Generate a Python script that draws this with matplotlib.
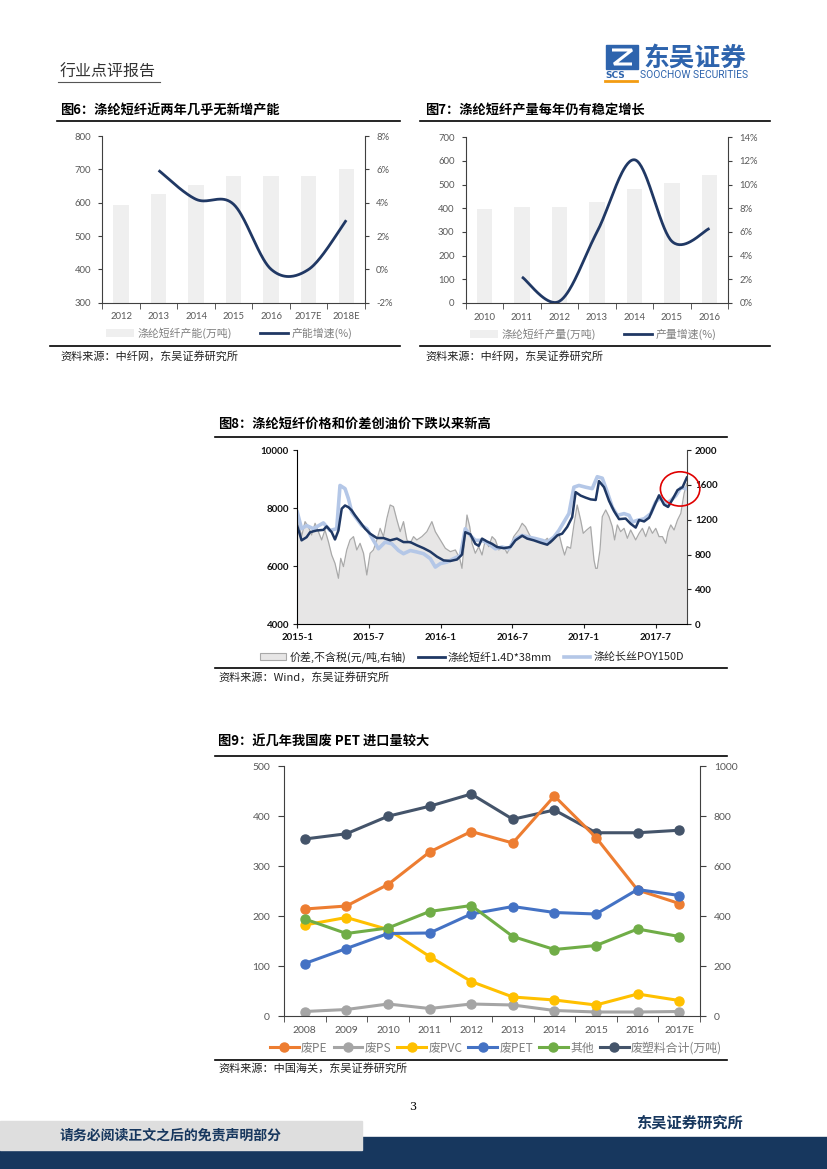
import numpy as np
import matplotlib
matplotlib.use("Agg")
import matplotlib.pyplot as plt
from matplotlib.patches import Rectangle, Ellipse, Patch, Polygon
from matplotlib.lines import Line2D

W, H = 827, 1169
LAT = ["Lato", "Noto Sans CJK SC", "DejaVu Sans"]
CJK = ["Noto Sans CJK SC", "DejaVu Sans"]
NAVY = "#203864"
GRAY_TXT = "#595959"

# ---- Fig 6: capacity (bars) and growth (line)
cap_years = ["2012", "2013", "2014", "2015", "2016", "2017E", "2018E"]
cap_vals = [592, 626, 654, 681, 681, 681, 701]
cap_growth_years = ["2013", "2014", "2015", "2016", "2017E", "2018E"]
cap_growth = [5.94, 4.2, 3.9, 0.0, 0.0, 2.95]

# ---- Fig 7: output (bars) and growth (line)
out_years = ["2010", "2011", "2012", "2013", "2014", "2015", "2016"]
out_vals = [395, 404, 405, 428, 481, 506, 541]
out_growth_years = ["2011", "2012", "2013", "2014", "2015", "2016"]
out_growth = [2.2, 0.15, 6.0, 12.1, 5.2, 6.3]

# ---- Fig 8: prices and spread, x in decimal years
spread_t = [0.000, 0.030, 0.054, 0.077, 0.100, 0.124, 0.147, 0.170, 0.193, 0.217,
            0.240, 0.263, 0.287, 0.303, 0.322, 0.345, 0.368, 0.392, 0.415, 0.438,
            0.462, 0.485, 0.508, 0.531, 0.555, 0.578, 0.601, 0.625, 0.648, 0.671,
            0.695, 0.718, 0.741, 0.765, 0.788, 0.811, 0.834, 0.869, 0.904, 0.939,
            0.963, 0.998, 1.033, 1.068, 1.103, 1.133, 1.149, 1.168, 1.184, 1.203,
            1.219, 1.242, 1.266, 1.289, 1.312, 1.336, 1.359, 1.382, 1.406, 1.441,
            1.464, 1.487, 1.510, 1.545, 1.569, 1.592, 1.615, 1.639, 1.685, 1.720,
            1.744, 1.767, 1.790, 1.825, 1.848, 1.865, 1.883, 1.907, 1.930, 1.953,
            1.977, 1.995, 2.019, 2.047, 2.070, 2.082, 2.093, 2.112, 2.128, 2.152,
            2.175, 2.198, 2.214, 2.233, 2.256, 2.280, 2.303, 2.326, 2.361, 2.385,
            2.408, 2.431, 2.455, 2.478, 2.501, 2.524, 2.548, 2.571, 2.587, 2.606,
            2.629, 2.653, 2.676, 2.699, 2.718]
spread_v = [1250, 1006, 1178, 1120, 1025, 1159, 1063, 968, 1082, 948,
            795, 700, 528, 757, 662, 853, 968, 1006, 853, 929,
            815, 566, 815, 853, 968, 1101, 1006, 1216, 1369, 1350,
            1197, 1063, 1178, 968, 929, 1006, 968, 1006, 1063, 1178,
            1063, 968, 872, 834, 853, 757, 642, 968, 1254, 1120,
            929, 815, 891, 795, 968, 891, 1006, 968, 853, 891,
            815, 891, 1006, 1082, 1159, 1120, 1044, 968, 968, 948,
            987, 929, 968, 1044, 891, 795, 891, 872, 1140, 1369,
            1197, 1044, 1082, 1120, 738, 642, 642, 853, 1235, 1312,
            1235, 1120, 968, 1140, 1063, 1101, 987, 1082, 968, 1044,
            1101, 1006, 1120, 1044, 1101, 1006, 1006, 929, 1063, 1140,
            1082, 1197, 1273, 1503, 1618]

psf_t = [0.000, 0.030, 0.065, 0.089, 0.135, 0.182, 0.205, 0.240, 0.263, 0.287,
         0.310, 0.333, 0.357, 0.380, 0.403, 0.438, 0.473, 0.508, 0.555, 0.601,
         0.648, 0.695, 0.741, 0.788, 0.834, 0.881, 0.928, 0.974, 1.021, 1.068,
         1.114, 1.149, 1.172, 1.207, 1.242, 1.266, 1.289, 1.324, 1.359, 1.394,
         1.441, 1.487, 1.522, 1.569, 1.604, 1.650, 1.697, 1.744, 1.779, 1.814,
         1.848, 1.883, 1.918, 1.942, 1.977, 2.012, 2.047, 2.082, 2.105, 2.140,
         2.175, 2.210, 2.245, 2.291, 2.326, 2.361, 2.385, 2.420, 2.455, 2.490,
         2.524, 2.559, 2.587, 2.618, 2.653, 2.688, 2.718]
psf_v = [7380, 6890, 7000, 7170, 7230, 7250, 7370, 7170, 6920, 7230,
         7980, 8090, 8030, 7920, 7750, 7520, 7290, 7120, 6970, 6970,
         6890, 6950, 6830, 6830, 6720, 6620, 6500, 6330, 6200, 6180,
         6230, 6400, 7170, 7100, 6770, 6700, 6950, 6850, 6770, 6660,
         6620, 6660, 6890, 7050, 6950, 6890, 6810, 6740, 6890, 7060,
         7120, 7350, 7690, 8550, 8430, 8360, 8300, 8280, 8930, 8720,
         8250, 7900, 7620, 7640, 7460, 7330, 7590, 7540, 7670, 8070,
         8440, 8120, 8040, 8300, 8620, 8720, 9050]

poy_t = [0.000, 0.030, 0.065, 0.112, 0.182, 0.228, 0.275, 0.298, 0.333, 0.357,
         0.380, 0.415, 0.450, 0.485, 0.531, 0.566, 0.613, 0.660, 0.706, 0.741,
         0.788, 0.834, 0.881, 0.928, 0.963, 0.998, 1.044, 1.091, 1.138, 1.172,
         1.207, 1.242, 1.289, 1.336, 1.382, 1.429, 1.476, 1.522, 1.569, 1.615,
         1.662, 1.709, 1.744, 1.790, 1.825, 1.860, 1.895, 1.930, 1.965, 2.012,
         2.058, 2.093, 2.128, 2.163, 2.198, 2.233, 2.280, 2.315, 2.338, 2.373,
         2.420, 2.466, 2.501, 2.536, 2.571, 2.606, 2.641, 2.676, 2.718]
poy_v = [7860, 7290, 7400, 7290, 7490, 7230, 7290, 8780, 8670, 8320,
         7860, 7630, 7400, 7290, 6890, 6600, 6830, 6770, 6540, 6430,
         6540, 6490, 6430, 6260, 5970, 6090, 6140, 6260, 6370, 7290,
         7060, 6890, 6890, 6770, 6600, 6660, 6600, 6950, 7060, 7000,
         6950, 6890, 6830, 7000, 7230, 7520, 7810, 8720, 8780, 8720,
         8670, 9080, 9030, 8550, 8030, 7750, 7810, 7750, 7520, 7580,
         7630, 7810, 8210, 8380, 8150, 8260, 8430, 8700, 8670]
fig8_ticks = [2015.0, 2015.5, 2016.0, 2016.5, 2017.0, 2017.5]
fig8_ticklabels = ["2015-1", "2015-7", "2016-1", "2016-7", "2017-1", "2017-7"]

# ---- Fig 9: waste plastic imports
imp_years = ["2008", "2009", "2010", "2011", "2012", "2013", "2014", "2015", "2016", "2017E"]
pe = [214, 220, 263, 328, 369, 346, 440, 357, 252, 225]
ps = [9, 13, 24, 15, 24, 22, 11, 8, 8, 9]
pvc = [182, 197, 173, 119, 69, 38, 32, 22, 44, 31]
pet = [105, 135, 165, 166, 204, 219, 207, 204, 253, 241]
other = [194, 165, 176, 209, 221, 159, 133, 141, 174, 159]
total = [708, 729, 799, 839, 888, 787, 824, 733, 733, 743]


def px_axes(fig, x0, y0, x1, y1):
    return fig.add_axes([x0 / W, 1 - y1 / H, (x1 - x0) / W, (y1 - y0) / H])


def ftext(fig, x, y, s, **kw):
    fig.text(x / W, 1 - y / H, s, **kw)


def hline(fig, x0, x1, y, lw=1.0, color="k"):
    fig.add_artist(Line2D([x0 / W, x1 / W], [1 - y / H, 1 - y / H], color=color, lw=lw))


def smooth(xs, ys, n=40):
    # Excel-style smoothed line (Catmull-Rom as cubic Bezier)
    px = np.concatenate([[xs[0]], xs, [xs[-1]]]).astype(float)
    py = np.concatenate([[ys[0]], ys, [ys[-1]]]).astype(float)
    t = np.linspace(0, 1, n)
    ox, oy = [], []
    for i in range(1, len(px) - 2):
        for arr, out in ((px, ox), (py, oy)):
            p0, p1, p2, p3 = arr[i - 1:i + 3]
            c1 = p1 + (p2 - p0) / 6
            c2 = p2 - (p3 - p1) / 6
            out.extend((1 - t) ** 3 * p1 + 3 * (1 - t) ** 2 * t * c1
                       + 3 * (1 - t) * t ** 2 * c2 + t ** 3 * p2)
    return np.array(ox), np.array(oy)


def cat_axis(ax, labels, size=7, color=GRAY_TXT):
    n = len(labels)
    ax.set_xlim(-0.5, n - 0.5)
    ax.set_xticks(range(n))
    ax.set_xticklabels(labels, family=LAT)
    ax.set_xticks(np.arange(-0.5, n), minor=True)
    ax.tick_params(axis="x", which="major", length=0, pad=7, labelsize=size, labelcolor=color)
    ax.tick_params(axis="x", which="minor", length=4, direction="out", color="#404040")


def bar_line_chart(fig, box, years, bars, ylim, yticks, gyears, growth, glim, gticks,
                   leg_labels, leg_x, leg_y):
    ax = px_axes(fig, *box)
    x = np.arange(len(years))
    ax.bar(x, bars, width=0.41, color="#efefef", zorder=1)
    ax.set_ylim(*ylim)
    ax.set_yticks(yticks)
    ax.set_yticklabels([str(v) for v in yticks], family=LAT)
    cat_axis(ax, years, size=6.8)
    ax.tick_params(axis="y", length=3, direction="out", labelsize=6.8,
                   labelcolor=GRAY_TXT, color="#404040", pad=5)
    for s in ("top", "right"):
        ax.spines[s].set_visible(False)
    for s in ("left", "bottom"):
        ax.spines[s].set_color("#404040")
    axr = ax.twinx()
    gx = np.array([years.index(y) for y in gyears])
    sx, sy = smooth(gx, np.array(growth))
    axr.plot(sx, sy, color=NAVY, lw=2.0, solid_capstyle="butt")
    axr.set_ylim(*glim)
    axr.set_yticks(gticks)
    axr.set_yticklabels([f"{v}%" for v in gticks], family=LAT)
    axr.tick_params(axis="y", length=3, direction="out", labelsize=6.8,
                    labelcolor=GRAY_TXT, color="#404040", pad=5)
    for s in ("top", "left", "bottom"):
        axr.spines[s].set_visible(False)
    axr.spines["right"].set_color("#404040")
    handles = [Patch(facecolor="#efefef", edgecolor="none"),
               Line2D([], [], color=NAVY, lw=2.0)]
    fig.legend(handles, leg_labels, loc="center", bbox_to_anchor=(leg_x / W, 1 - leg_y / H),
               ncol=2, frameon=False, handlelength=2.6, columnspacing=2.6, handletextpad=0.3,
               prop={"family": CJK, "size": 7.8}, labelcolor="#7f7f7f")


def main():
    fig = plt.figure(figsize=(W / 100, H / 100), dpi=100)

    # ---- header
    ftext(fig, 60, 72, "行业点评报告", family=CJK, fontsize=11.5, color="#333333",
          va="center", fontweight="light")
    hline(fig, 58, 160, 82, lw=0.8, color="#555555")
    fig.add_artist(Rectangle((606 / W, 1 - 69 / H), 32 / W, 24 / H, color="#2e64ad",
                             transform=fig.transFigure))
    fig.add_artist(Polygon([[612 / W, 1 - 50 / H], [632 / W, 1 - 50 / H],
                            [614 / W, 1 - 64 / H], [632 / W, 1 - 64 / H]],
                           closed=False, fill=False, edgecolor="white", lw=2.2,
                           transform=fig.transFigure))
    ftext(fig, 643, 58, "东吴证券", family=CJK, fontsize=18.5, fontweight="bold",
          color="#2e64ad", va="center")
    ftext(fig, 605, 75.5, "SCS", family="DejaVu Sans", fontsize=6.5, fontweight="bold",
          color="#2e64ad", va="center")
    hline(fig, 605, 637, 81, lw=2.0, color="#f39c12")
    ftext(fig, 640, 75.5, "SOOCHOW SECURITIES", family="Roboto", fontsize=7.4,
          color="#2e64ad", va="center")

    # ---- figure titles 6 / 7
    ftext(fig, 60, 110, "图6：涤纶短纤近两年几乎无新增产能", family=CJK, fontsize=9.5,
          fontweight="bold", va="center")
    hline(fig, 57, 400, 121, lw=1.2)
    ftext(fig, 425, 110, "图7：涤纶短纤产量每年仍有稳定增长", family=CJK, fontsize=9.5,
          fontweight="bold", va="center")
    hline(fig, 420, 770, 121, lw=1.2)

    bar_line_chart(fig, (102.3, 136, 365, 302.7), cap_years, cap_vals, (300, 800),
                   list(range(300, 801, 100)), cap_growth_years, cap_growth, (-2, 8),
                   list(range(-2, 9, 2)), ["涤纶短纤产能(万吨)", "产能增速(%)"], 229, 333)
    bar_line_chart(fig, (465.7, 137.3, 728.3, 303), out_years, out_vals, (0, 700),
                   list(range(0, 701, 100)), out_growth_years, out_growth, (0, 14),
                   list(range(0, 15, 2)), ["涤纶短纤产量(万吨)", "产量增速(%)"], 593, 334)

    hline(fig, 50, 400, 346.5, lw=1.2)
    ftext(fig, 60, 356, "资料来源：中纤网，东吴证券研究所", family=CJK, fontsize=8,
          va="center", color="#222222")
    hline(fig, 420, 770, 346.5, lw=1.2)
    ftext(fig, 425, 356, "资料来源：中纤网，东吴证券研究所", family=CJK, fontsize=8,
          va="center", color="#222222")

    # ---- Fig 8
    ftext(fig, 218, 424, "图8：涤纶短纤价格和价差创油价下跌以来新高", family=CJK,
          fontsize=9.5, fontweight="bold", va="center")
    hline(fig, 215, 727, 437, lw=1.2)
    ax = px_axes(fig, 297.3, 450, 686.7, 624.3)
    axr = ax.twinx()
    st = 2015 + np.array(spread_t)
    axr.fill_between(st, 0, spread_v, color="#e7e6e6", lw=0)
    axr.plot(st, spread_v, color="#a9a9a9", lw=0.9)
    axr.set_ylim(0, 2000)
    axr.set_yticks(range(0, 2001, 400))
    ax.set_zorder(axr.get_zorder() + 1)
    ax.patch.set_visible(False)
    ax.plot(2015 + np.array(poy_t), poy_v, color="#b4c7e7", lw=2.6)
    ax.plot(2015 + np.array(psf_t), psf_v, color="#1f3864", lw=1.8)
    ax.set_xlim(2015.0, 2017.717)
    ax.set_ylim(4000, 10000)
    ax.set_yticks(range(4000, 10001, 2000))
    ax.set_xticks(fig8_ticks)
    ax.set_xticklabels(fig8_ticklabels)
    ax.add_patch(Ellipse((2017.671, 8660), 0.275, 1180, fill=False, edgecolor="#e00000",
                         lw=1.2, clip_on=False, zorder=5))
    for a in (ax, axr):
        a.spines["top"].set_visible(False)
        a.tick_params(length=3, direction="out", labelsize=7, labelcolor="#111111",
                      color="#222222", pad=3)
        for lab in a.get_xticklabels() + a.get_yticklabels():
            lab.set_family(LAT)
            lab.set_fontweight("bold")
    ax.spines["right"].set_visible(False)
    axr.spines["left"].set_visible(False)
    axr.spines["bottom"].set_visible(False)
    axr.spines["right"].set_color("#444444")
    handles = [Patch(facecolor="#e7e6e6", edgecolor="#a9a9a9", lw=0.8),
               Line2D([], [], color="#1f3864", lw=2.0),
               Line2D([], [], color="#b4c7e7", lw=2.6)]
    fig.legend(handles, ["价差,不含税(元/吨,右轴)", "涤纶短纤1.4D*38mm", "涤纶长丝POY150D"],
               loc="center", bbox_to_anchor=(472 / W, 1 - 657 / H), ncol=3, frameon=False,
               handlelength=2.4, columnspacing=1.1, handletextpad=0.3,
               prop={"family": CJK, "size": 7.9}, labelcolor="#222222")
    hline(fig, 215, 727, 668, lw=1.2)
    ftext(fig, 218, 677, "资料来源：Wind，东吴证券研究所", family=CJK, fontsize=8,
          va="center", color="#222222")

    # ---- Fig 9
    ftext(fig, 218, 742, "图9：近几年我国废 PET 进口量较大", family=CJK, fontsize=9.5,
          fontweight="bold", va="center")
    hline(fig, 215, 727, 756, lw=1.2)
    ax9 = px_axes(fig, 284, 766, 700, 1016)
    ax9r = ax9.twinx()
    x = np.arange(len(imp_years))
    series = [(pe, "#ed7d31", "废PE"), (ps, "#a5a5a5", "废PS"), (pvc, "#ffc000", "废PVC"),
              (pet, "#4472c4", "废PET"), (other, "#70ad47", "其他")]
    handles = []
    for vals, col, lab in series:
        h, = ax9.plot(x, vals, color=col, lw=2.2, marker="o", markersize=6.5, label=lab)
        handles.append(h)
    h, = ax9r.plot(x, total, color="#44546a", lw=2.2, marker="o", markersize=6.5)
    handles.append(h)
    ax9.set_zorder(ax9r.get_zorder() + 1)
    ax9.patch.set_visible(False)
    ax9.set_ylim(0, 500)
    ax9.set_yticks(range(0, 501, 100))
    ax9r.set_ylim(0, 1000)
    ax9r.set_yticks(range(0, 1001, 200))
    cat_axis(ax9, imp_years, size=7.5)
    for a in (ax9, ax9r):
        a.spines["top"].set_visible(False)
        a.tick_params(axis="y", length=4, direction="out", labelsize=7.5,
                      labelcolor=GRAY_TXT, color="#404040", pad=6)
        for lab in a.get_yticklabels():
            lab.set_family(LAT)
    ax9.spines["right"].set_visible(False)
    ax9r.spines["left"].set_visible(False)
    ax9r.spines["bottom"].set_visible(False)
    ax9.spines["left"].set_color("#404040")
    ax9.spines["bottom"].set_color("#404040")
    ax9r.spines["right"].set_color("#404040")
    fig.legend(handles, ["废PE", "废PS", "废PVC", "废PET", "其他", "废塑料合计(万吨)"],
               loc="center", bbox_to_anchor=(496 / W, 1 - 1048 / H), ncol=6, frameon=False,
               handlelength=2.4, columnspacing=0.5, handletextpad=0.2,
               prop={"family": CJK, "size": 8.6}, labelcolor="#7f7f7f")
    hline(fig, 215, 727, 1060, lw=1.2)
    ftext(fig, 218, 1068, "资料来源：中国海关，东吴证券研究所", family=CJK, fontsize=8,
          va="center", color="#222222")

    # ---- footer
    ftext(fig, 413, 1107, "3", family="DejaVu Serif", fontsize=8, ha="center", va="center")
    fig.add_artist(Rectangle((0, 1 - 1169 / H), 1, 19 / H, color="#17375e",
                             transform=fig.transFigure))
    fig.add_artist(Rectangle((362 / W, 1 - 1169 / H), 1 - 362 / W, 32 / H, color="#17375e",
                             transform=fig.transFigure))
    fig.add_artist(Rectangle((0, 1 - 1150 / H), 362 / W, 29 / H, color="#dedede",
                             transform=fig.transFigure))
    ftext(fig, 60, 1135, "请务必阅读正文之后的免责声明部分", family=CJK, fontsize=10,
          fontweight="bold", color="#17375e", va="center")
    ftext(fig, 636, 1123, "东吴证券研究所", family=CJK, fontsize=11, fontweight="bold",
          color="#17375e", va="center")

    fig.savefig("out.png", dpi=100)
    plt.close(fig)


if __name__ == "__main__":
    main()
